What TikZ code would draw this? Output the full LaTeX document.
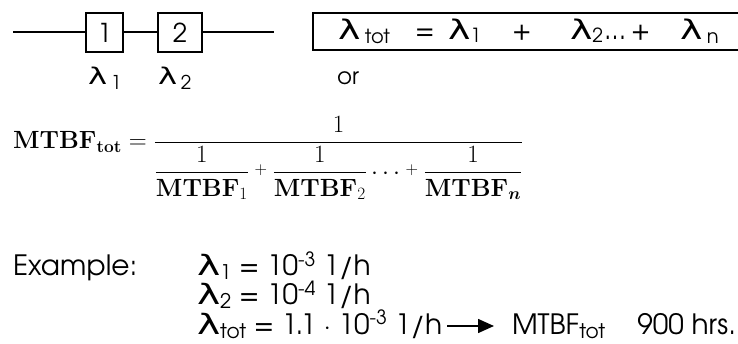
\documentclass[tikz,border=0pt]{standalone}
\usepackage{amsmath}
\usepackage{graphicx}
\usepackage[no-math]{fontspec}
\setmainfont{texgyreadventor-regular.otf}
\newfontfamily\lamfont{DejaVu Sans}
\usetikzlibrary{arrows.meta}
\newcommand{\lam}{\scalebox{1.4}[1]{\lamfont λ}}
\newcommand{\dn}[2]{\raisebox{-#1}{\scalebox{0.72}{#2}}}
\begin{document}
\begin{tikzpicture}[x=1pt,y=-1pt,every node/.style={inner sep=0pt,outer sep=0pt}]
\tikzset{
  blk/.style={draw,line width=2.2pt,minimum width=37pt,minimum height=39pt,font=\fontsize{26}{26}\selectfont},
  wire/.style={line width=2pt},
  big/.style={anchor=base west,font=\fontsize{27}{27}\selectfont},
  lbl/.style={anchor=base west,font=\fontsize{23}{23}\selectfont},
  ex/.style={anchor=base west,font=\fontsize{28}{28}\selectfont},
  frm/.style={line width=2.5pt}
}
\useasboundingbox (0,0) rectangle (738,344);
% series blocks
\node[blk] (b1) at (104.5,32.5) {1};
\node[blk,minimum width=44pt] (b2) at (180,32.5) {2};
\coordinate (w0) at (13,32.5);
\coordinate (w1) at (274,32.5);
\draw[wire] (w0) -- (b1);
\draw[wire] (b1) -- (b2);
\draw[wire] (b2) -- (w1);
\node[lbl] (l1) at (88,85) {\lam\,\dn{5pt}{\scalebox{1.15}{1}}};
\node[lbl] (l2) at (158,85) {\lam\,\dn{5pt}{\scalebox{1.15}{2}}};
\node[lbl] (or) at (337,85) {or};
% lambda total box
\draw[frm] (738,13) -- (313,13) -- (313,50) -- (738,50);
\node[big] (t0) at (338,40) {\lam\,\dn{4pt}{tot}};
\node[big] (t1) at (415,40) {=};
\node[big] (t2) at (448,40) {\lam\dn{3pt}{1}};
\node[big] (t3) at (512,40) {+};
\node[big] (t4) at (570,40) {\lam\dn{3pt}{2}};
\node[big] (t5) at (604,40) {...\,+};
\node[big] (t6) at (680,40) {\lam\,\dn{4pt}{n}};
% MTBF formula
\node[anchor=base west,font=\fontsize{24.5}{24.5}\selectfont] (mf) at (13,149)
 {$\mathbf{MTBF}_{\mathbf{tot}} = \dfrac{1}{\dfrac{1}{\mathbf{MTBF}_1}
  \mathbin{\raisebox{5pt}{$\scriptstyle+$}}
  \dfrac{1}{\mathbf{MTBF}_2}\cdots
  \mathbin{\raisebox{5pt}{$\scriptstyle+$}}
  \dfrac{1}{\mathbf{MTBF}_{\boldsymbol{n}}}}$};
% example
\node[ex] (ex) at (13,276) {Example:};
\node[ex] (e1) at (197,276) {\lam\dn{4pt}{1} = 10\textsuperscript{-3} 1/h};
\node[ex] (e2) at (197,305) {\lam\dn{4pt}{2} = 10\textsuperscript{-4} 1/h};
\node[ex] (e3) at (197,334) {\lam\dn{4pt}{tot} = 1.1 $\cdot$ 10\textsuperscript{-3} 1/h};
\node[ex] (mt) at (512,334) {MTBF\dn{4pt}{tot}};
\node[ex,anchor=base east] (hr) at (736,334) {900 hrs.};
\draw[line width=1.5pt,-{Triangle[length=16pt,width=14pt]}]
  ([xshift=5pt,yshift=8pt]e3.base east) -- ([xshift=-18pt,yshift=8pt]mt.base west);
\end{tikzpicture}
\end{document}
